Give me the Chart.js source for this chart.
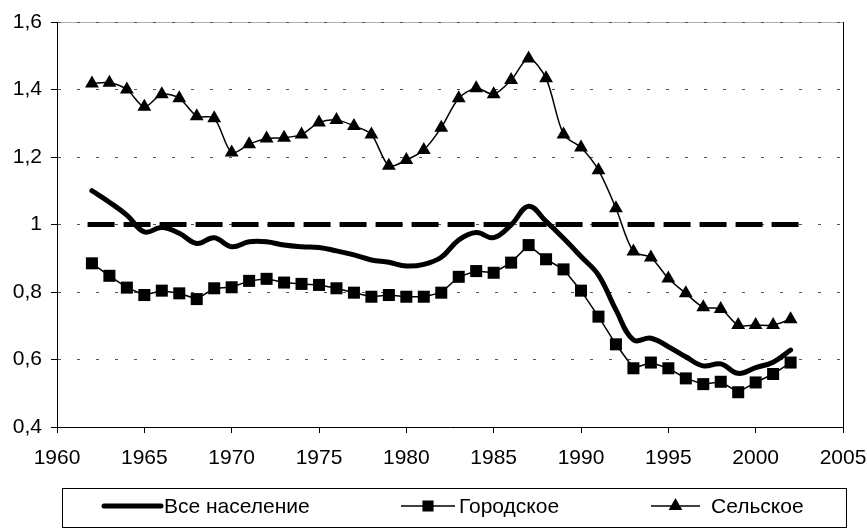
<!DOCTYPE html>
<html lang="ru">
<head>
<meta charset="utf-8">
<title>Население</title>
<script src="https://cdn.jsdelivr.net/npm/chart.js@4.4.0/dist/chart.umd.min.js"></script>
<style>
  html, body { margin: 0; padding: 0; background: #fff; }
  canvas { display: block; }
</style>
</head>
<body>
<canvas id="myChart" width="867" height="528"></canvas>
<script>
// data
const years = [1962, 1963, 1964, 1965, 1966, 1967, 1968, 1969, 1970, 1971,
  1972, 1973, 1974, 1975, 1976, 1977, 1978, 1979, 1980, 1981,
  1982, 1983, 1984, 1985, 1986, 1987, 1988, 1989, 1990, 1991,
  1992, 1993, 1994, 1995, 1996, 1997, 1998, 1999, 2000, 2001, 2002];

const total = [1.100, 1.066, 1.028, 0.978, 0.991, 0.974, 0.944, 0.961, 0.934, 0.949,
  0.949, 0.939, 0.934, 0.932, 0.922, 0.910, 0.895, 0.888, 0.877, 0.882,
  0.903, 0.954, 0.976, 0.961, 0.999, 1.054, 1.009, 0.959, 0.905, 0.850,
  0.747, 0.658, 0.663, 0.638, 0.608, 0.581, 0.587, 0.559, 0.576, 0.592, 0.628];

const urban = [0.885, 0.848, 0.813, 0.791, 0.804, 0.796, 0.779, 0.811, 0.814, 0.833,
  0.839, 0.828, 0.824, 0.821, 0.811, 0.798, 0.786, 0.791, 0.786, 0.786,
  0.798, 0.845, 0.862, 0.857, 0.887, 0.939, 0.897, 0.867, 0.804, 0.727,
  0.645, 0.574, 0.591, 0.574, 0.544, 0.527, 0.534, 0.503, 0.532, 0.557, 0.591];

const rural = [1.418, 1.420, 1.400, 1.349, 1.386, 1.374, 1.321, 1.315, 1.213, 1.238,
  1.255, 1.257, 1.267, 1.302, 1.310, 1.292, 1.267, 1.174, 1.191, 1.221,
  1.287, 1.374, 1.404, 1.386, 1.428, 1.492, 1.433, 1.267, 1.228, 1.161,
  1.048, 0.920, 0.902, 0.840, 0.796, 0.755, 0.750, 0.702, 0.702, 0.702, 0.719];

// reference level 1 (dashed)
const refYears = [1961.75, 2002.5];
const refLevel = [1, 1];

const seriesNames = ['Все население', 'Городское', 'Сельское'];

const xTicks = [1960, 1965, 1970, 1975, 1980, 1985, 1990, 1995, 2000, 2005];
const yTicks = [0.4, 0.6, 0.8, 1.0, 1.2, 1.4, 1.6];

function pairs(xs, ys) {
  return xs.map((x, i) => ({ x: x, y: ys[i] }));
}

const FONT = '"Liberation Sans", Arial, sans-serif';
Chart.defaults.font.family = FONT;
Chart.defaults.font.size = 21;
Chart.defaults.color = '#000';

// frame: light top line + black right edge
const framePlugin = {
  id: 'frame',
  beforeDraw(chart) {
    const { ctx, chartArea: a } = chart;
    ctx.save();
    ctx.strokeStyle = '#b0b0b0';
    ctx.lineWidth = 1;
    ctx.beginPath();
    ctx.moveTo(a.left, a.top + 0.5);
    ctx.lineTo(a.right, a.top + 0.5);
    ctx.stroke();
    ctx.restore();
  },
  afterDraw(chart) {
    const { ctx, chartArea: a } = chart;
    ctx.save();
    ctx.strokeStyle = '#000';
    ctx.lineWidth = 1;
    ctx.beginPath();
    ctx.moveTo(Math.round(a.right) + 0.5, a.top);
    ctx.lineTo(Math.round(a.right) + 0.5, a.bottom);
    ctx.stroke();
    ctx.restore();
  }
};

// boxed legend under the chart, like the Excel one
const boxLegend = {
  id: 'boxLegend',
  afterDraw(chart) {
    const ctx = chart.ctx;
    const top = 488, bottom = 527, left = 62, right = 846;
    const cy = 506;
    ctx.save();
    ctx.strokeStyle = '#000';
    ctx.lineWidth = 1;
    ctx.strokeRect(left + 0.5, top + 0.5, right - left, bottom - top);

    const items = [
      { x1: 104, x2: 161, tx: 164, ds: 0 },
      { x1: 401, x2: 455, tx: 459, ds: 1 },
      { x1: 651, x2: 700, tx: 711, ds: 2 }
    ];
    items.forEach(it => {
      const ds = chart.data.datasets[it.ds];
      ctx.strokeStyle = '#000';
      ctx.lineWidth = ds.borderWidth;
      ctx.lineCap = it.ds === 0 ? 'round' : 'butt';
      ctx.beginPath();
      ctx.moveTo(it.x1, cy);
      ctx.lineTo(it.x2, cy);
      ctx.stroke();
      if (ds.pointRadius > 0) {
        Chart.helpers.drawPoint(ctx, {
          pointStyle: ds.pointStyle,
          radius: ds.pointRadius * 0.8,
          rotation: 0,
          borderWidth: 1
        }, (it.x1 + it.x2) / 2, cy);
        ctx.fillStyle = '#000';
        ctx.fill();
      }
      ctx.fillStyle = '#000';
      ctx.font = '21px ' + FONT;
      ctx.textBaseline = 'middle';
      ctx.textAlign = 'left';
      ctx.fillText(seriesNames[it.ds], it.tx, cy + 1);
    });
    ctx.restore();
  }
};

const config = {
  type: 'line',
  data: {
    datasets: [
      {
        label: seriesNames[0],
        data: pairs(years, total),
        borderColor: '#000',
        borderWidth: 5,
        pointRadius: 0,
        tension: 0.4,
        borderCapStyle: 'round',
        borderJoinStyle: 'round',
        order: 1
      },
      {
        label: seriesNames[1],
        data: pairs(years, urban),
        borderColor: '#000',
        backgroundColor: '#000',
        borderWidth: 1.5,
        pointStyle: 'rect',
        pointRadius: 8.5,
        pointBorderWidth: 0,
        tension: 0,
        order: 2
      },
      {
        label: seriesNames[2],
        data: pairs(years, rural),
        borderColor: '#000',
        backgroundColor: '#000',
        borderWidth: 1.5,
        pointStyle: 'triangle',
        pointRadius: 8,
        pointBorderWidth: 0,
        tension: 0.3,
        order: 3
      },
      {
        label: 'ref',
        data: pairs(refYears, refLevel),
        borderColor: '#000',
        borderWidth: 5,
        borderDash: [27, 9],
        pointRadius: 0,
        tension: 0,
        order: 4
      }
    ]
  },
  options: {
    responsive: false,
    animation: false,
    devicePixelRatio: 1,
    layout: { padding: { left: 0, right: 24, top: 22, bottom: 61 } },
    plugins: {
      legend: { display: false },
      tooltip: { enabled: false }
    },
    scales: {
      x: {
        type: 'linear',
        min: xTicks[0],
        max: xTicks[xTicks.length - 1],
        afterBuildTicks: s => { s.ticks = xTicks.map(v => ({ value: v })); },
        afterFit: s => { s.height = 40; s.paddingLeft = 0; s.paddingRight = 0; },
        ticks: {
          padding: 13,
          maxRotation: 0,
          autoSkip: false,
          callback: v => String(v)
        },
        grid: {
          drawOnChartArea: false,
          drawTicks: true,
          tickLength: 6,
          tickColor: '#000',
          tickWidth: 1
        },
        border: { display: true, color: '#000', width: 1 }
      },
      y: {
        min: yTicks[0],
        max: yTicks[yTicks.length - 1],
        afterBuildTicks: s => { s.ticks = yTicks.map(v => ({ value: v })); },
        afterFit: s => { s.width = 57; },
        ticks: {
          padding: 9,
          callback: v => String(Math.round(v * 10) / 10).replace('.', ',')
        },
        grid: {
          color: c => (c.tick && c.tick.value <= 0.4) ? 'rgba(0,0,0,0)' : '#555',
          lineWidth: 1,
          tickLength: 6,
          tickColor: '#000',
          tickWidth: 1,
          tickBorderDash: []
        },
        border: { display: true, color: '#000', width: 1, dash: [3, 16] }
      }
    }
  },
  plugins: [framePlugin, boxLegend]
};

const myChart = new Chart(document.getElementById('myChart'), config);
</script>
</body>
</html>
